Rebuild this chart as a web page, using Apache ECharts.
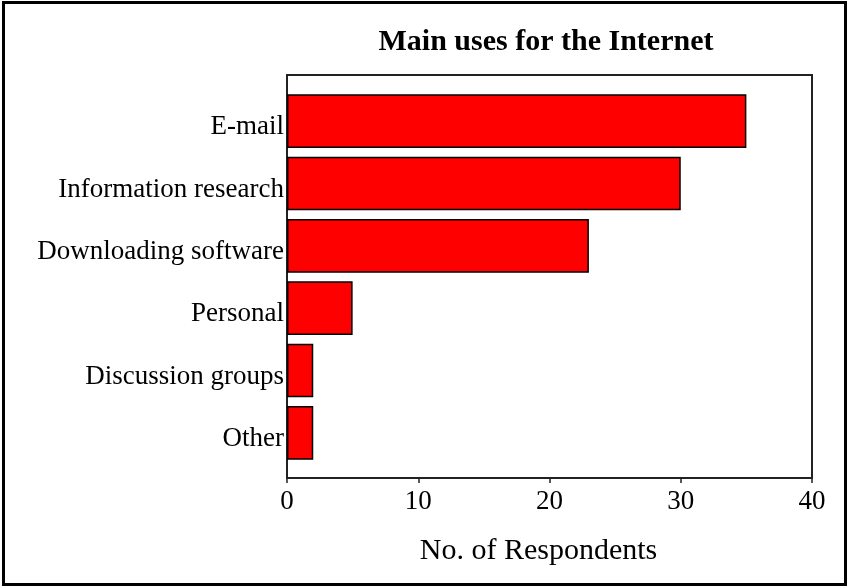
<!DOCTYPE html>
<html>
<head>
<meta charset="utf-8">
<title>Main uses for the Internet</title>
<script src="https://cdn.jsdelivr.net/npm/echarts@6/dist/echarts.min.js"></script>
<style>
  html, body { margin: 0; padding: 0; background: #fff; }
  #chart { width: 848px; height: 586px; }
</style>
</head>
<body>
<div id="chart"></div>
<script>
// Survey answers: main uses for the Internet
const categories = ['E-mail', 'Information research', 'Downloading software', 'Personal', 'Discussion groups', 'Other'];
const respondents = [35, 30, 23, 5, 2, 2];
const xTicks = [0, 10, 20, 30, 40];

const FONT = "'Liberation Serif', 'Times New Roman', serif";
const chart = echarts.init(document.getElementById('chart'), null, { renderer: 'canvas' });

const plotLeft = 287, plotRight = 36;

chart.setOption({
  backgroundColor: '#ffffff',
  animation: false,
  title: {
    text: 'Main uses for the Internet',
    left: 541,
    textAlign: 'center',
    top: 22,
    textStyle: { fontFamily: FONT, fontSize: 30, fontWeight: 'bold', color: '#000' }
  },
  graphic: [{
    // outer frame around the whole figure
    type: 'rect',
    shape: { x: 3.5, y: 2.5, width: 842, height: 582 },
    style: { fill: null, stroke: '#000', lineWidth: 3 },
    silent: true
  }],
  grid: [
    // plot frame with the value axis
    { left: plotLeft, right: plotRight, top: 75, bottom: 108, show: true, borderColor: '#222', borderWidth: 2, backgroundColor: 'transparent' },
    // bar area, inset inside the frame
    { left: plotLeft, right: plotRight, top: 90, bottom: 122 }
  ],
  xAxis: [
    {
      gridIndex: 0, type: 'value', min: xTicks[0], max: xTicks[xTicks.length - 1], interval: 10,
      axisLine: { show: true, lineStyle: { color: '#222', width: 2 } },
      axisTick: { show: true, length: 5, lineStyle: { color: '#222', width: 1.5 } },
      axisLabel: { margin: 10, fontFamily: FONT, fontSize: 27, color: '#000' },
      splitLine: { show: false },
      name: 'No. of Respondents', nameLocation: 'middle', nameGap: 58,
      nameTextStyle: { fontFamily: FONT, fontSize: 30, color: '#000', padding: [0, 22, 0, 0] }
    },
    {
      gridIndex: 1, type: 'value', min: xTicks[0], max: xTicks[xTicks.length - 1], interval: 10,
      show: false
    }
  ],
  yAxis: [
    { gridIndex: 0, type: 'value', show: false },
    {
      gridIndex: 1, type: 'category', data: categories, inverse: true,
      axisLine: { show: false }, axisTick: { show: false },
      axisLabel: {
        margin: 3, fontFamily: FONT, fontSize: 27, color: '#000',
        verticalAlign: 'top', lineHeight: 12
      }
    }
  ],
  series: [{
    type: 'bar',
    xAxisIndex: 1, yAxisIndex: 1,
    data: respondents,
    barCategoryGap: '14%',
    itemStyle: { color: '#ff0000', borderColor: '#000', borderWidth: 1.5 }
  }]
});
</script>
</body>
</html>
